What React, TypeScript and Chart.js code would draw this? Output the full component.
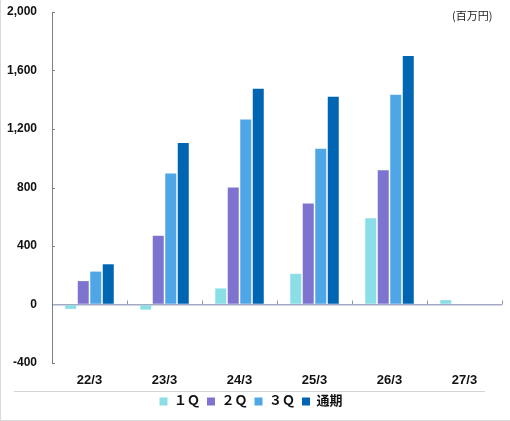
import React, { useEffect, useRef } from "react";
import { Chart, registerables } from "chart.js";

Chart.register(...registerables);

const categories = ["22/3", "23/3", "24/3", "25/3", "26/3", "27/3"];
const seriesNames = ["１Ｑ", "２Ｑ", "３Ｑ", "通期"];
const q1Values = [-30, -35, 110, 210, 590, 30];
const q2Values = [160, 470, 800, 690, 918, null];
const q3Values = [225, 895, 1265, 1065, 1435, null];
const fullYearValues = [275, 1105, 1475, 1420, 1700, null];
const seriesColors = ["#8ADFE6", "#7E74CF", "#4EA6E6", "#0066B3"];
const yTickValues = [-400, 0, 400, 800, 1200, 1600, 2000];
const unitLabel = "(百万円)";

const FONT = "'Liberation Sans', Arial, 'Noto Sans CJK JP', sans-serif";

const tickPlugin = {
  id: "smallTicks",
  afterDatasetsDraw(chart: any) {
    const { ctx, chartArea, scales } = chart;
    const x = scales.x;
    const y = scales.y;
    ctx.save();
    ctx.lineWidth = 1;
    ctx.strokeStyle = "#7f7f7f";
    y.ticks.forEach((t: any) => {
      if (t.value === 0) return;
      const py = Math.round(y.getPixelForValue(t.value)) + 0.5;
      ctx.beginPath();
      ctx.moveTo(chartArea.left, py);
      ctx.lineTo(chartArea.left + 3, py);
      ctx.stroke();
    });
    const zeroY = y.getPixelForValue(0);
    const n = categories.length;
    const step = x.getPixelForValue(1) - x.getPixelForValue(0);
    ctx.strokeStyle = "#8c95b0";
    for (let i = 1; i <= n; i++) {
      const px = Math.round(x.getPixelForValue(i - 1) + step / 2) + 0.5;
      ctx.beginPath();
      ctx.moveTo(px, zeroY);
      ctx.lineTo(px, zeroY - 4);
      ctx.stroke();
    }
    ctx.restore();
  },
};

export default function App() {
  const ref = useRef<HTMLCanvasElement | null>(null);
  useEffect(() => {
    document.body.style.margin = "0";
    if (!ref.current) return;
    const allValues = [q1Values, q2Values, q3Values, fullYearValues];
    const chart = new Chart(ref.current, {
      type: "bar",
      data: {
        labels: categories,
        datasets: allValues.map((vals, i) => ({
          label: seriesNames[i],
          data: vals,
          backgroundColor: seriesColors[i],
          borderWidth: 0,
          categoryPercentage: 0.667,
          barPercentage: 0.88,
        })),
      },
      options: {
        animation: false,
        responsive: false,
        devicePixelRatio: 1,
        layout: { padding: { top: 12, right: 8, bottom: 3, left: 0 } },
        plugins: {
          tooltip: { enabled: false },
          legend: {
            position: "bottom",
            labels: {
              boxWidth: 8,
              boxHeight: 8,
              padding: 7,
              color: "#111",
              font: { family: FONT, size: 13, weight: "bold" },
            },
          },
        },
        scales: {
          x: {
            grid: { display: false, drawTicks: false },
            border: { display: false },
            ticks: {
              padding: 10,
              color: "#111",
              font: { family: FONT, size: 13, weight: "bold" },
            },
            afterFit: (s: any) => {
              s.height = 25;
            },
          },
          y: {
            min: -400,
            max: 2000,
            afterBuildTicks: (s: any) => {
              s.ticks = yTickValues.map((v) => ({ value: v }));
            },
            grid: {
              drawTicks: false,
              color: (c: any) => (c.tick && c.tick.value === 0 ? "#a3aac4" : "transparent"),
              lineWidth: (c: any) => (c.tick && c.tick.value === 0 ? 1.5 : 0),
            },
            border: { display: true, color: "#7f7f7f", width: 1 },
            ticks: {
              padding: 15,
              color: "#111",
              font: { family: FONT, size: 12, weight: "bold" },
              callback: (v: any) => Number(v).toLocaleString("en-US"),
            },
            afterFit: (s: any) => {
              s.width = 52;
              s.paddingTop = 0;
              s.paddingBottom = 0;
            },
          },
        },
      },
      plugins: [tickPlugin],
    } as any);
    return () => chart.destroy();
  }, []);

  return (
    <div
      style={{
        position: "relative",
        width: 510,
        height: 421,
        boxSizing: "border-box",
        borderLeft: "1px solid #d9d9d9",
        borderBottom: "1px solid #d9d9d9",
        background: "#fff",
        overflow: "hidden",
      }}
    >
      <canvas ref={ref} width={510} height={421} style={{ position: "absolute", left: -1, top: 0 }} />
      <div
        style={{
          position: "absolute",
          left: 13,
          top: 391,
          width: 471,
          height: 1,
          background: "#d4d4d4",
        }}
      />
      <div
        style={{
          position: "absolute",
          left: 451,
          top: 7,
          fontFamily: "'Noto Sans CJK JP', sans-serif",
          fontSize: 11,
          lineHeight: "16px",
          color: "#222",
          whiteSpace: "nowrap",
        }}
      >
        {unitLabel}
      </div>
    </div>
  );
}
